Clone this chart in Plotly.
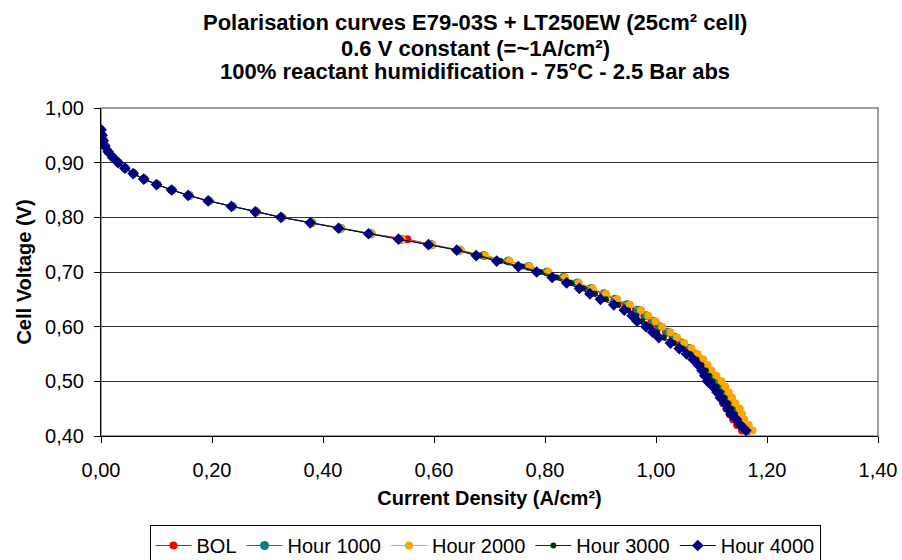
import plotly.graph_objects as go

# ---- data ----
voltage = [0.96, 0.95, 0.94, 0.93, 0.92, 0.91, 0.90, 0.89, 0.88, 0.87,
           0.86, 0.85, 0.84, 0.83, 0.82, 0.81, 0.80, 0.79, 0.78, 0.77,
           0.76, 0.75, 0.74, 0.73, 0.72, 0.71, 0.70, 0.69, 0.68, 0.67,
           0.66, 0.65, 0.64, 0.63, 0.62, 0.61, 0.60, 0.59, 0.58, 0.57,
           0.56, 0.55, 0.54, 0.53, 0.52, 0.51, 0.50, 0.49, 0.48, 0.47,
           0.46, 0.45, 0.44, 0.43, 0.42, 0.41]

current_bol = [0.000, 0.002, 0.004, 0.008, 0.013, 0.021, 0.031, 0.044, 0.059, 0.078,
               0.101, 0.128, 0.158, 0.194, 0.236, 0.279, 0.325, 0.379, 0.431, 0.486,
               0.552, 0.596, 0.646, 0.689, 0.733, 0.770, 0.803, 0.832, 0.857, 0.882,
               0.905, 0.925, 0.945, 0.964, 0.979, 0.992, 1.004, 1.018, 1.030, 1.042,
               1.054, 1.064, 1.073, 1.081, 1.088, 1.095, 1.101, 1.106, 1.111, 1.116,
               1.121, 1.127, 1.133, 1.139, 1.146, 1.155]

current_h1000 = [0.000, 0.002, 0.005, 0.008, 0.013, 0.021, 0.031, 0.044, 0.059, 0.078,
                 0.101, 0.128, 0.159, 0.195, 0.237, 0.280, 0.326, 0.380, 0.432, 0.487,
                 0.541, 0.596, 0.647, 0.690, 0.734, 0.771, 0.804, 0.834, 0.859, 0.884,
                 0.907, 0.927, 0.949, 0.968, 0.982, 0.995, 1.007, 1.021, 1.034, 1.047,
                 1.060, 1.070, 1.080, 1.088, 1.096, 1.104, 1.112, 1.119, 1.126, 1.132,
                 1.138, 1.144, 1.149, 1.154, 1.160, 1.166]

current_h2000 = [0.000, 0.002, 0.005, 0.008, 0.013, 0.021, 0.031, 0.044, 0.059, 0.078,
                 0.101, 0.128, 0.159, 0.195, 0.237, 0.280, 0.327, 0.380, 0.432, 0.487,
                 0.542, 0.597, 0.648, 0.692, 0.736, 0.772, 0.806, 0.836, 0.861, 0.886,
                 0.910, 0.930, 0.953, 0.973, 0.986, 0.999, 1.011, 1.026, 1.038, 1.051,
                 1.064, 1.075, 1.085, 1.093, 1.100, 1.109, 1.118, 1.125, 1.131, 1.137,
                 1.143, 1.151, 1.155, 1.159, 1.167, 1.174]

current_h3000 = [0.000, 0.002, 0.004, 0.007, 0.013, 0.021, 0.031, 0.043, 0.058, 0.077,
                 0.100, 0.127, 0.158, 0.194, 0.236, 0.279, 0.325, 0.378, 0.430, 0.484,
                 0.539, 0.593, 0.644, 0.682, 0.720, 0.759, 0.792, 0.821, 0.847, 0.870,
                 0.890, 0.910, 0.932, 0.950, 0.965, 0.975, 0.989, 1.002, 1.014, 1.032,
                 1.048, 1.061, 1.073, 1.082, 1.090, 1.096, 1.102, 1.110, 1.117, 1.123,
                 1.130, 1.136, 1.142, 1.148, 1.155, 1.163]

current_h4000 = [0.000, 0.002, 0.004, 0.007, 0.013, 0.021, 0.031, 0.043, 0.058, 0.077,
                 0.100, 0.127, 0.157, 0.193, 0.235, 0.278, 0.324, 0.377, 0.428, 0.482,
                 0.536, 0.590, 0.641, 0.676, 0.713, 0.752, 0.785, 0.813, 0.839, 0.862,
                 0.881, 0.900, 0.924, 0.943, 0.957, 0.966, 0.982, 0.994, 1.005, 1.026,
                 1.042, 1.055, 1.067, 1.076, 1.083, 1.088, 1.093, 1.103, 1.110, 1.116,
                 1.124, 1.130, 1.135, 1.145, 1.152, 1.162]

series_names = ["BOL", "Hour 1000", "Hour 2000", "Hour 3000", "Hour 4000"]
series_currents = [current_bol, current_h1000, current_h2000, current_h3000, current_h4000]

title_lines = ["Polarisation curves E79-03S + LT250EW (25cm² cell)",
               "0.6 V constant (=~1A/cm²)",
               "100% reactant humidification - 75°C - 2.5 Bar abs"]

# ---- styles ----
colors = ["#FF0000", "#008080", "#FFA500", "#003300", "#000080"]
symbols = ["circle", "circle", "circle", "circle", "diamond"]
sizes = [8, 9, 8, 6, 9]
FONT = "Liberation Sans, Arial, sans-serif"

fig = go.Figure()
for name, cur, col, sym, sz in zip(series_names, series_currents, colors, symbols, sizes):
    fig.add_trace(go.Scatter(
        x=cur, y=voltage, name=name, mode="lines+markers",
        line=dict(color=col, width=1),
        marker=dict(color=col, symbol=sym, size=sz, line=dict(width=0)),
    ))

# plot area: left 101, right 878, top 108, bottom 436
PL, PR, PT, PB = 101, 878, 108, 436
def py(p):
    return (PB - p) / (PB - PT)
def px(p):
    return (p - PL) / (PR - PL)

for line, ypx in zip(title_lines, [22, 48, 72]):
    fig.add_annotation(text="<b>" + line + "</b>", xref="paper", yref="paper",
                       x=px(475), y=py(ypx), xanchor="center", yanchor="middle",
                       showarrow=False, font=dict(family=FONT, size=22, color="black"))

fig.add_shape(type="rect", xref="paper", yref="paper", x0=0, x1=1, y0=0, y1=1,
              line=dict(color="#808080", width=1.5), layer="below")

fig.update_layout(
    width=902, height=560,
    margin=dict(l=PL, r=902 - PR, t=PT, b=560 - PB, autoexpand=False),
    paper_bgcolor="white", plot_bgcolor="white",
    separators=",.",
    font=dict(family=FONT, size=20, color="black"),
    showlegend=True,
    legend=dict(orientation="h", x=px(485), xanchor="center", y=py(525), yanchor="top",
                bgcolor="white", bordercolor="black", borderwidth=1,
                font=dict(family=FONT, size=20, color="black"),
                itemwidth=36),
    xaxis=dict(range=[0, 1.4], dtick=0.2, tick0=0, tickformat=".2f",
               showgrid=False, zeroline=False,
               showline=True, linecolor="black", linewidth=1,
               ticks="outside", ticklen=6, tickcolor="black", ticklabelstandoff=10,
               title=dict(text="<b>Current Density (A/cm²)</b>", font=dict(size=20), standoff=10)),
    yaxis=dict(range=[0.4, 1.0], dtick=0.1, tick0=0.4, tickformat=".2f",
               showgrid=True, gridcolor="#333333", gridwidth=1, zeroline=False,
               showline=True, linecolor="black", linewidth=1,
               ticks="outside", ticklen=6, tickcolor="black", ticklabelstandoff=6,
               title=dict(text="<b>Cell Voltage (V)</b>", font=dict(size=20), standoff=8)),
)

fig.write_html("out.html")
